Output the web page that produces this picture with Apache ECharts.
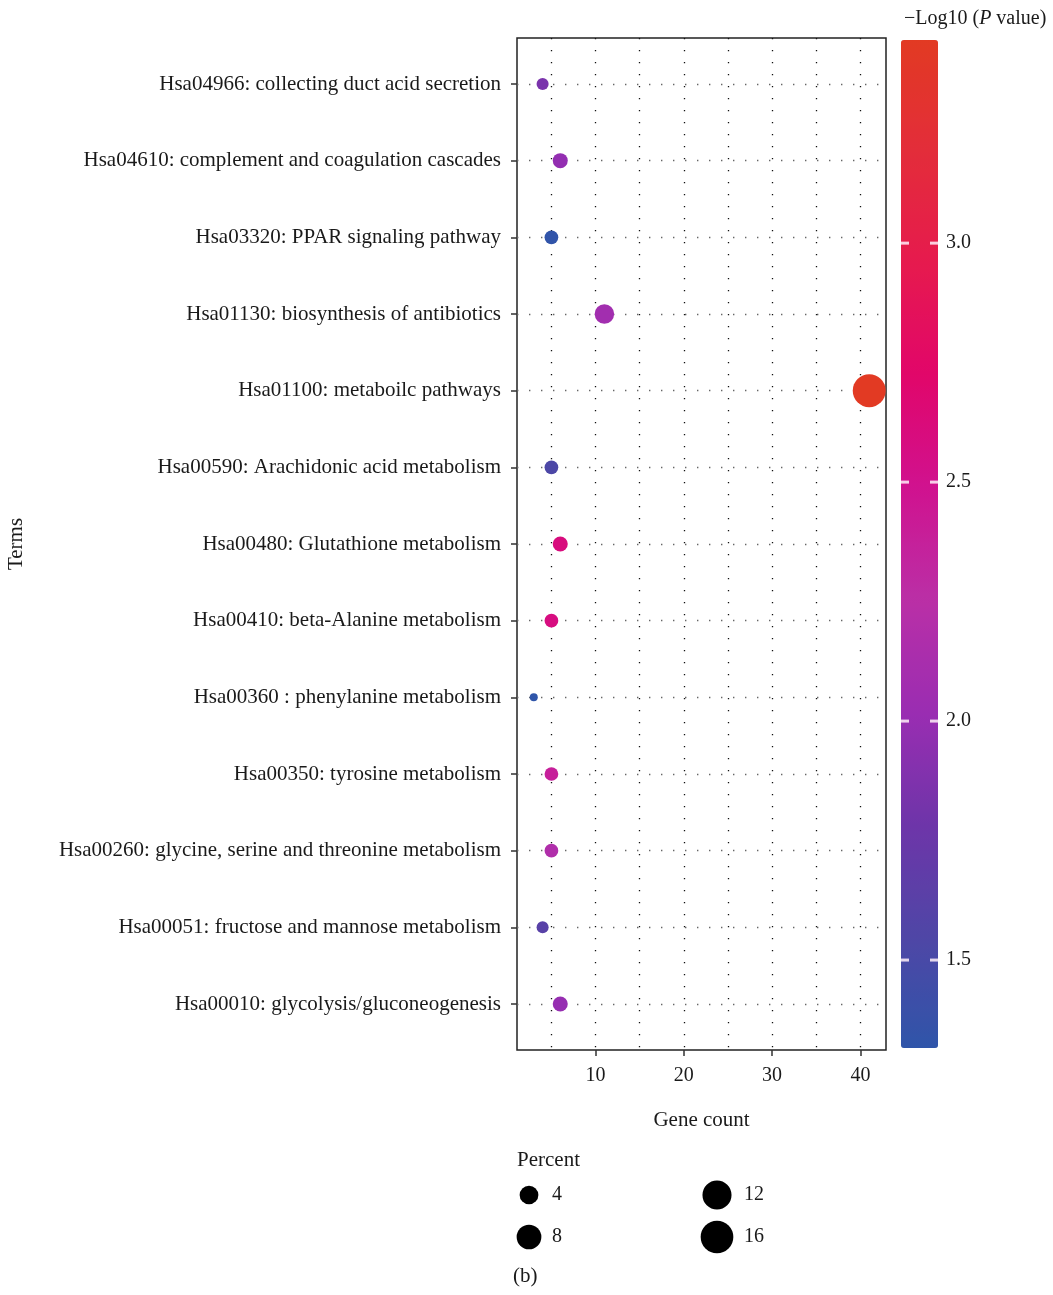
<!DOCTYPE html>
<html>
<head>
<meta charset="utf-8">
<script src="https://cdn.jsdelivr.net/npm/echarts@6/dist/echarts.min.js"></script>
<style>
  html, body { margin: 0; padding: 0; background: #fff; }
  #chart { width: 1053px; height: 1295px; }
</style>
</head>
<body>
<div id="chart"></div>
<script>
// ---- data ----
const terms = [
  'Hsa04966: collecting duct acid secretion',
  'Hsa04610: complement and coagulation cascades',
  'Hsa03320: PPAR signaling pathway',
  'Hsa01130: biosynthesis of antibiotics',
  'Hsa01100: metaboilc pathways',
  'Hsa00590: Arachidonic acid metabolism',
  'Hsa00480: Glutathione metabolism',
  'Hsa00410: beta-Alanine metabolism',
  'Hsa00360 : phenylanine metabolism',
  'Hsa00350: tyrosine metabolism',
  'Hsa00260: glycine, serine and threonine metabolism',
  'Hsa00051: fructose and mannose metabolism',
  'Hsa00010: glycolysis/gluconeogenesis'
];
const geneCount = [4, 6, 5, 11, 41, 5, 6, 5, 3, 5, 5, 4, 6];
const percent   = [1.6, 2.4, 2.0, 4.4, 16.4, 2.0, 2.4, 2.0, 1.2, 2.0, 2.0, 1.6, 2.4];
const negLogP   = [1.85, 1.98, 1.33, 2.08, 3.425, 1.53, 2.6, 2.58, 1.316, 2.38, 2.18, 1.62, 2.0];
const xTicks = [10, 20, 30, 40];
const xGrid = [5, 10, 15, 20, 25, 30, 35, 40];
const colorTicks = [1.5, 2.0, 2.5, 3.0];
const percentLegend = [4, 8, 12, 16];
const colorMin = 1.316, colorMax = 3.425;
const colorStops = ['#2F55A9', '#4F46A6', '#6E35A9', '#9A2DB2', '#BA2FA6',
                    '#D0128F', '#E1066A', '#E61A4E', '#E32D3A', '#E23A23'];

// ---- size scale (area-like, ggplot style) ----
const pMin = Math.min(...percent), pMax = Math.max(...percent);
const sMin = 8, sMax = 33;
function sizeFn(p) {
  const t = Math.max(0, Math.min(1, (p - pMin) / (pMax - pMin)));
  return sMin + (sMax - sMin) * Math.sqrt(t);
}

const FONT = '"Liberation Serif", "DejaVu Serif", serif';
const FS = 21;   // text
const FN = 20;   // numbers
const TXT = '#1a1a1a';

const seriesData = terms.map((t, i) => [geneCount[i], i + 1, percent[i], negLogP[i]]);
const yIdx = terms.map((t, i) => i + 1);

// layout
const G = { left: 517, top: 38, width: 369, height: 1012 };
const CB = { left: 901, top: 40, width: 37, height: 1008 };

// size legend graphics
const legendPos = [
  { cx: 529, cy: 1195, lx: 552 },
  { cx: 529, cy: 1237, lx: 552 },
  { cx: 717, cy: 1195, lx: 744 },
  { cx: 717, cy: 1237, lx: 744 }
];
const graphics = [
  { type: 'text', left: 517, top: 1150,
    style: { text: 'Percent', font: FS + 'px ' + FONT, fill: TXT } },
  { type: 'text', left: 513, top: 1266,
    style: { text: '(b)', font: FS + 'px ' + FONT, fill: TXT } }
];
percentLegend.forEach((v, i) => {
  const p = legendPos[i];
  graphics.push({ type: 'circle', shape: { cx: p.cx, cy: p.cy, r: sizeFn(v) / 2 },
    style: { fill: '#000' } });
  graphics.push({ type: 'text', x: p.lx, y: p.cy,
    style: { text: String(v), font: FN + 'px ' + FONT, fill: TXT, verticalAlign: 'middle' } });
});

const chart = echarts.init(document.getElementById('chart'), null, { renderer: 'canvas' });
chart.setOption({
  backgroundColor: '#fff',
  animation: false,
  title: {
    left: 899, top: 4,
    text: '{n|\u2212Log10 (}{i|P}{n| value)}',
    textStyle: {
      fontWeight: 'normal',
      rich: {
        n: { fontFamily: FONT, fontSize: FN, color: TXT, fontWeight: 'normal' },
        i: { fontFamily: FONT, fontSize: FN, color: TXT, fontStyle: 'italic', fontWeight: 'normal' }
      }
    }
  },
  grid: [
    { left: G.left, top: G.top, width: G.width, height: G.height,
      show: true, borderColor: '#222', borderWidth: 1.5, backgroundColor: 'transparent' },
    { left: CB.left, top: CB.top, width: CB.width, height: CB.height, show: false }
  ],
  xAxis: [
    { // grid lines only
      gridIndex: 0, type: 'value', position: 'top', min: 1.1, max: 42.9,
      axisLine: { show: false },
      axisTick: { show: false, customValues: xGrid },
      axisLabel: { show: false },
      splitLine: { show: true, lineStyle: { color: '#111', width: 1.3, type: [1.3, 10.7] } }
    },
    { // ticks + labels
      gridIndex: 0, type: 'value', position: 'bottom', min: 1.1, max: 42.9,
      axisLine: { show: false },
      axisTick: { show: true, length: 6, customValues: xTicks,
        lineStyle: { color: '#333', width: 1.5 } },
      axisLabel: { show: true, customValues: xTicks, margin: 16,
        fontFamily: FONT, fontSize: FN, color: TXT },
      splitLine: { show: false },
      name: 'Gene count', nameLocation: 'middle', nameGap: 60,
      nameTextStyle: { fontFamily: FONT, fontSize: FS, color: TXT }
    },
    { gridIndex: 1, type: 'value', show: false, min: 0, max: 1 }
  ],
  yAxis: [
    {
      gridIndex: 0, type: 'value', inverse: true, min: 0.4, max: 13.6,
      axisLine: { show: false },
      axisTick: { show: true, length: 6, customValues: yIdx,
        lineStyle: { color: '#333', width: 1.5 } },
      axisLabel: { show: true, customValues: yIdx, margin: 16,
        fontFamily: FONT, fontSize: FS, color: TXT,
        formatter: v => terms[Math.round(v) - 1] || '' },
      splitLine: { show: true, lineStyle: { color: '#666', width: 1.4, type: [1.4, 10.6] } },
      name: 'Terms', nameLocation: 'middle', nameGap: 490, nameRotate: 90,
      nameTextStyle: { fontFamily: FONT, fontSize: FS, color: TXT }
    },
    { // colorbar labels
      gridIndex: 1, type: 'value', position: 'right', min: colorMin, max: colorMax,
      axisLine: { show: false },
      axisTick: { show: false, customValues: colorTicks },
      axisLabel: { show: true, customValues: colorTicks, margin: 8,
        fontFamily: FONT, fontSize: FN, color: TXT,
        formatter: v => v.toFixed(1) },
      splitLine: { show: false }
    }
  ],
  visualMap: {
    type: 'continuous',
    seriesIndex: 0,
    dimension: 3,
    min: colorMin, max: colorMax,
    left: CB.left, top: CB.top,
    itemWidth: CB.width, itemHeight: CB.height,
    padding: 0,
    calculable: false,
    hoverLink: false,
    orient: 'vertical',
    inRange: { color: colorStops }
  },
  graphic: graphics,
  series: [{
    type: 'scatter',
    xAxisIndex: 1, yAxisIndex: 0,
    data: seriesData,
    symbol: 'circle',
    symbolSize: v => sizeFn(v[2]),
    itemStyle: { opacity: 1 },
    z: 5
  }]
});

// colorbar tick marks on both edges, positioned by the colorbar's own axis
const markEls = [];
colorTicks.forEach(v => {
  const y = chart.convertToPixel({ yAxisIndex: 1 }, v);
  [CB.left, CB.left + CB.width - 8].forEach(x0 => {
    markEls.push({ type: 'rect', z: 100,
      shape: { x: x0, y: y - 1.5, width: 8, height: 3 },
      style: { fill: 'rgba(255,238,248,0.85)' } });
  });
});
chart.setOption({ graphic: graphics.concat(markEls) });
</script>
</body>
</html>
